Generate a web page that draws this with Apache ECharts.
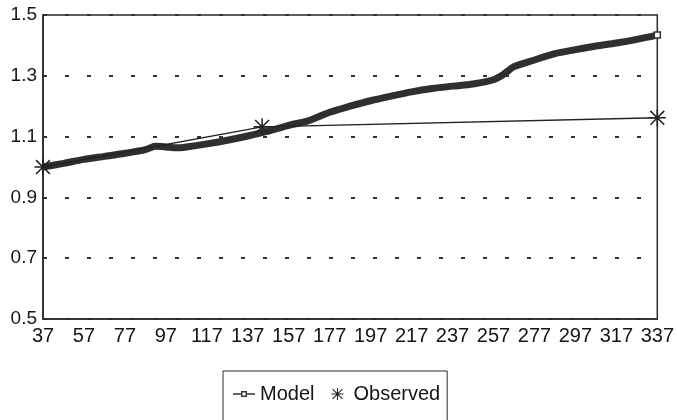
<!DOCTYPE html>
<html>
<head>
<meta charset="utf-8">
<script src="https://cdn.jsdelivr.net/npm/echarts@6/dist/echarts.min.js"></script>
<style>
html,body{margin:0;padding:0;background:#fff;}
#c{width:677px;height:420px;}
</style>
</head>
<body>
<div id="c"></div>
<script>
// Model (days, relative value)
var modelDays = [37, 47, 57, 67, 77, 87, 92, 97, 102, 107, 117, 127, 137, 147, 157, 167, 177, 187, 197, 207, 217, 227, 237, 247, 257, 262, 267, 277, 287, 297, 307, 317, 327, 337];
var modelValues = [1.000, 1.012, 1.025, 1.035, 1.045, 1.057, 1.068, 1.066, 1.063, 1.066, 1.076, 1.088, 1.102, 1.118, 1.137, 1.153, 1.180, 1.200, 1.218, 1.233, 1.247, 1.258, 1.266, 1.273, 1.287, 1.305, 1.330, 1.352, 1.373, 1.386, 1.398, 1.408, 1.420, 1.434];
// Observed
var obsDays = [37, 144, 337];
var obsValues = [1.000, 1.132, 1.162];
// Tick labels
var xTicks = [37, 57, 77, 97, 117, 137, 157, 177, 197, 217, 237, 257, 277, 297, 317, 337];
var yTicks = [0.5, 0.7, 0.9, 1.1, 1.3, 1.5];

var asterisk = 'path://M9.1,0 L10.9,0 L10.9,20 L9.1,20 Z M0,9.1 L20,9.1 L20,10.9 L0,10.9 Z M2.5,1.2 L18.8,17.5 L17.5,18.8 L1.2,2.5 Z M17.5,1.2 L18.8,2.5 L2.5,18.8 L1.2,17.5 Z';
var modelIcon = 'path://M0,4.3 L8,4.3 L8,2 L14,2 L14,4.3 L22,4.3 L22,5.7 L14,5.7 L14,8 L8,8 L8,5.7 L0,5.7 Z M9.4,3.4 L9.4,6.6 L12.6,6.6 L12.6,3.4 Z';

function pairs(xs, ys){ return xs.map(function(x,i){ return [x, ys[i]]; }); }

var chart = echarts.init(document.getElementById('c'), null, {renderer:'canvas'});
var txt = '#151515';
var ff = 'Liberation Sans, Arial, sans-serif';
var modelData = pairs(modelDays, modelValues);
modelData[modelData.length-1] = {value: modelData[modelData.length-1], symbol:'rect', symbolSize:6, itemStyle:{color:'#fff', borderColor:'#333', borderWidth:1.5}};
chart.setOption({
  animation:false,
  backgroundColor:'#fff',
  textStyle:{fontFamily:ff},
  grid:{left:43, right:16, top:15, bottom:101, show:true, borderColor:'#2a2a2a', borderWidth:1.5, backgroundColor:'transparent'},
  xAxis:{
    type:'value', min:37, max:337, interval:20,
    axisLine:{show:true, lineStyle:{color:'#2a2a2a', width:1.5}},
    axisTick:{show:false},
    splitLine:{show:false},
    axisLabel:{customValues:xTicks, color:txt, fontSize:20, margin:7, fontFamily:ff}
  },
  yAxis:{
    type:'value', min:0.5, max:1.5, interval:0.2,
    axisLine:{show:true, lineStyle:{color:'#2a2a2a', width:1.5}},
    axisTick:{show:false},
    splitLine:{show:true, lineStyle:{color:'#333', width:2, type:[4,18]}},
    axisLabel:{customValues:yTicks, color:txt, fontSize:19, margin:6, formatter:function(v){return v.toFixed(1);}, fontFamily:ff}
  },
  legend:{
    left:223, top:371,
    padding:[13,7,20,10],
    borderColor:'#2a2a2a', borderWidth:1,
    itemGap:17, itemWidth:22, itemHeight:12,
    textStyle:{color:txt, fontSize:20, fontFamily:ff},
    data:[{name:'Model', icon:modelIcon, itemStyle:{color:'#333'}}, {name:'Observed', icon:asterisk, itemStyle:{color:'#222'}}]
  },
  series:[
    {name:'Model', type:'line', data:modelData, showSymbol:true, symbol:'none', smooth:0.3,
     lineStyle:{color:'#2f2f2f', width:7}, itemStyle:{color:'#333'}, z:3},
    {name:'Observed', type:'line', data:pairs(obsDays, obsValues), symbol:asterisk, symbolSize:17,
     lineStyle:{color:'#222', width:1.3}, itemStyle:{color:'#222'}, z:4}
  ]
});
</script>
</body>
</html>
